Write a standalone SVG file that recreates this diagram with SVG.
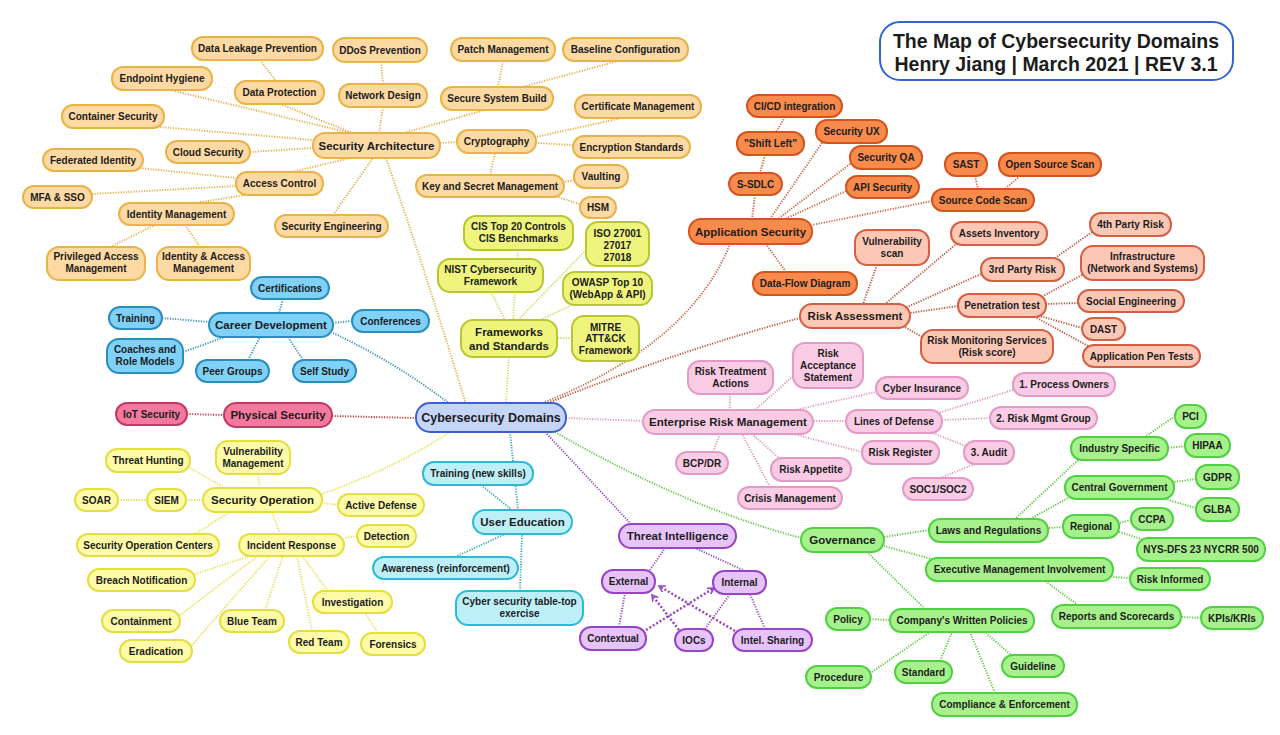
<svg xmlns="http://www.w3.org/2000/svg" width="1280" height="735" viewBox="0 0 1280 735">
<defs>
<style>
text{font-family:"Liberation Sans",Arial,sans-serif;font-weight:bold;font-size:10px;fill:#1c1c1c;text-anchor:middle}
.h text{font-size:11.5px}
rect{stroke-width:2}
.c path{fill:none;stroke-width:1.9;stroke-dasharray:1.2 1.4}
.sa rect{fill:#FDD9A3;stroke:#E9B347}
.fw rect{fill:#EEF47C;stroke:#B9C633}
.cd rect{fill:#7FD1F7;stroke:#2A8EBB}
.ps rect{fill:#F5799E;stroke:#C23A63}
.ct rect{fill:#C5D5F8;stroke:#3C61CF}
.so rect{fill:#FDFBA8;stroke:#E4DE3F}
.ue rect{fill:#BDEFF9;stroke:#2DBAD2}
.ti rect{fill:#E6C3F8;stroke:#9844C6}
.as rect{fill:#F88A4C;stroke:#D3541F}
.ra rect{fill:#FDC7B6;stroke:#D45F43}
.er rect{fill:#F9CBE4;stroke:#E29AC6}
.gv rect{fill:#A7F18C;stroke:#52D043}
.l-sa{stroke:#E3B04B}.l-fw{stroke:#D3D868}.l-cd{stroke:#3A93BE}.l-ps{stroke:#B8403F}
.l-so{stroke:#E6DF55}.l-ue{stroke:#35A9C4}.l-ti{stroke:#9848C0}.l-as{stroke:#C76A40}
.l-ra{stroke:#BE553C}.l-er{stroke:#DC9AC0}.l-gv{stroke:#5CCB40}
.arr{stroke-width:2.5 !important;stroke-dasharray:2 2 !important}
</style>
<marker id="ah" markerWidth="8" markerHeight="8" refX="6" refY="4" orient="auto" markerUnits="userSpaceOnUse">
<path d="M0,0.5 L6,4 L0,7.5" fill="none" stroke="#9848C0" stroke-width="1.6"/>
</marker>
</defs>
<rect width="1280" height="735" fill="#ffffff"/>

<g id="connectors" class="c">
<!-- center -->
<path class="l-sa" d="M466 404 Q425 270 386 158"/>
<path class="l-fw" d="M509 357 L506 403"/>
<path class="l-cd" d="M333 333 Q395 362 450 404"/>
<path class="l-ps" d="M332 416 L416 418"/>
<path class="l-so" d="M322 494 Q395 468 450 432"/>
<path class="l-ue" d="M510 432 Q514 470 518 510"/>
<path class="l-ti" d="M545 432 Q590 480 632 525"/>
<path class="l-gv" d="M555 432 Q685 507 801 538"/>
<path class="l-er" d="M566 418 L643 421"/>
<path class="l-ra" d="M548 403 Q680 350 800 318"/>
<path class="l-as" d="M540 404 Q690 345 730 244"/>
<!-- security architecture -->
<path class="l-sa" d="M280 104 L355 134"/>
<path class="l-sa" d="M260 60 L276 81"/>
<path class="l-sa" d="M170 90 L355 134"/>
<path class="l-sa" d="M383 107 L379 133"/>
<path class="l-sa" d="M381 62 L383 84"/>
<path class="l-sa" d="M485 110 L400 134"/>
<path class="l-sa" d="M503 61 L498 87"/>
<path class="l-sa" d="M618 61 L522 87"/>
<path class="l-sa" d="M160 127 L313 140"/>
<path class="l-sa" d="M250 152 L313 148"/>
<path class="l-sa" d="M457 142 L440 143"/>
<path class="l-sa" d="M622 118 L536 137"/>
<path class="l-sa" d="M573 145 L536 143"/>
<path class="l-sa" d="M490 175 L495 153"/>
<path class="l-sa" d="M574 180 L564 182"/>
<path class="l-sa" d="M582 205 L555 196"/>
<path class="l-sa" d="M292 172 L350 158"/>
<path class="l-sa" d="M140 168 L236 178"/>
<path class="l-sa" d="M92 194 L236 186"/>
<path class="l-sa" d="M195 203 L245 195"/>
<path class="l-sa" d="M333 215 L373 158"/>
<path class="l-sa" d="M110 247 L155 225"/>
<path class="l-sa" d="M200 247 L185 225"/>
<!-- frameworks -->
<path class="l-fw" d="M491 292 L505 320"/>
<path class="l-fw" d="M518 250 L513 320"/>
<path class="l-fw" d="M586 250 L518 320"/>
<path class="l-fw" d="M572 305 L540 320"/>
<path class="l-fw" d="M572 338 L557 338"/>
<!-- career -->
<path class="l-cd" d="M283 299 L279 313"/>
<path class="l-cd" d="M162 318 L209 322"/>
<path class="l-cd" d="M352 321 L333 323"/>
<path class="l-cd" d="M183 352 L225 337"/>
<path class="l-cd" d="M248 360 L260 337"/>
<path class="l-cd" d="M303 360 L288 337"/>
<!-- physical -->
<path class="l-ps" d="M187 414 L224 415"/>
<!-- security operation -->
<path class="l-so" d="M190 468 L225 488"/>
<path class="l-so" d="M258 474 L260 488"/>
<path class="l-so" d="M186 500 L203 500"/>
<path class="l-so" d="M118 500 L147 500"/>
<path class="l-so" d="M338 505 L322 503"/>
<path class="l-so" d="M195 534 L230 512"/>
<path class="l-so" d="M280 534 L272 512"/>
<path class="l-so" d="M357 536 L344 538"/>
<path class="l-so" d="M195 574 L250 556"/>
<path class="l-so" d="M180 615 L258 556"/>
<path class="l-so" d="M192 645 L270 556"/>
<path class="l-so" d="M265 610 L283 556"/>
<path class="l-so" d="M312 631 L297 556"/>
<path class="l-so" d="M328 591 L302 556"/>
<path class="l-so" d="M378 633 L365 613"/>
<!-- user education -->
<path class="l-ue" d="M481 485 L512 510"/>
<path class="l-ue" d="M455 557 L505 534"/>
<path class="l-ue" d="M520 591 L522 534"/>
<!-- threat intelligence -->
<path class="l-ti" d="M650 570 L665 548"/>
<path class="l-ti" d="M745 571 L695 548"/>
<path class="l-ti" d="M619 627 L625 593"/>
<path class="l-ti" d="M705 629 L730 594"/>
<path class="l-ti" d="M765 629 L750 594"/>
<path class="l-ti arr" d="M646 630 L714 588" marker-end="url(#ah)"/>
<path class="l-ti arr" d="M679 630 L652 595" marker-end="url(#ah)"/>
<path class="l-ti arr" d="M735 631 L659 586" marker-end="url(#ah)"/>
<!-- application security -->
<path class="l-as" d="M755 195 L752 219"/>
<path class="l-as" d="M765 155 L760 173"/>
<path class="l-as" d="M785 117 L776 132"/>
<path class="l-as" d="M822 143 L770 219"/>
<path class="l-as" d="M850 164 L778 219"/>
<path class="l-as" d="M846 191 L785 219"/>
<path class="l-as" d="M932 201 L812 225"/>
<path class="l-as" d="M975 176 L978 189"/>
<path class="l-as" d="M1020 176 L1005 189"/>
<path class="l-as" d="M786 272 L766 244"/>
<!-- risk assessment -->
<path class="l-ra" d="M877 265 L863 304"/>
<path class="l-ra" d="M955 245 L885 304"/>
<path class="l-ra" d="M981 274 L905 308"/>
<path class="l-ra" d="M1092 232 L1055 258"/>
<path class="l-ra" d="M958 306 L910 313"/>
<path class="l-ra" d="M1082 275 L1043 296"/>
<path class="l-ra" d="M1078 303 L1046 304"/>
<path class="l-ra" d="M1082 328 L1040 316"/>
<path class="l-ra" d="M1088 346 L1035 317"/>
<path class="l-ra" d="M922 337 L905 327"/>
<!-- erm -->
<path class="l-er" d="M730 394 L730 410"/>
<path class="l-er" d="M793 376 L755 410"/>
<path class="l-er" d="M880 391 L795 410"/>
<path class="l-er" d="M846 421 L813 421"/>
<path class="l-er" d="M1013 390 L938 413"/>
<path class="l-er" d="M990 418 L942 420"/>
<path class="l-er" d="M968 447 L930 432"/>
<path class="l-er" d="M940 478 L975 464"/>
<path class="l-er" d="M862 452 L793 434"/>
<path class="l-er" d="M713 452 L720 434"/>
<path class="l-er" d="M780 459 L752 434"/>
<path class="l-er" d="M770 487 L742 434"/>
<!-- governance -->
<path class="l-gv" d="M929 530 L884 537"/>
<path class="l-gv" d="M935 560 L884 546"/>
<path class="l-gv" d="M925 609 L867 552"/>
<path class="l-gv" d="M1078 460 L1015 519"/>
<path class="l-gv" d="M1070 497 L1030 519"/>
<path class="l-gv" d="M1063 527 L1048 528"/>
<path class="l-gv" d="M1175 416 L1145 437"/>
<path class="l-gv" d="M1185 446 L1168 448"/>
<path class="l-gv" d="M1196 479 L1174 482"/>
<path class="l-gv" d="M1196 508 L1165 499"/>
<path class="l-gv" d="M1131 520 L1119 523"/>
<path class="l-gv" d="M1145 540 L1119 532"/>
<path class="l-gv" d="M1130 578 L1113 577"/>
<path class="l-gv" d="M1078 605 L1045 581"/>
<path class="l-gv" d="M1201 618 L1181 617"/>
<path class="l-gv" d="M870 619 L890 620"/>
<path class="l-gv" d="M872 672 L930 632"/>
<path class="l-gv" d="M940 661 L952 632"/>
<path class="l-gv" d="M995 693 L970 632"/>
<path class="l-gv" d="M1012 656 L985 632"/>
</g>

<g id="title"><rect x="880" y="22" width="353" height="58" rx="20" fill="#ffffff" stroke="#3466D1" stroke-width="2"/>
<text x="1056" y="48" style="font-size:19.5px">The Map of Cybersecurity Domains</text>
<text x="1056" y="71" style="font-size:19.5px">Henry Jiang | March 2021 | REV 3.1</text></g>

<!-- Security Architecture -->
<g class="sa">
<g id="n-dlp"><rect x="192" y="37" width="131" height="23" rx="11"/><text x="257.5" y="52">Data Leakage Prevention</text></g>
<g id="n-ddos"><rect x="333" y="38" width="94" height="24" rx="12"/><text x="380" y="53.5">DDoS Prevention</text></g>
<g id="n-patch"><rect x="451" y="38" width="104" height="23" rx="11"/><text x="503" y="53">Patch Management</text></g>
<g id="n-baseline"><rect x="563" y="38" width="125" height="23" rx="11"/><text x="625.5" y="53">Baseline Configuration</text></g>
<g id="n-endpoint"><rect x="112" y="67" width="100" height="23" rx="11"/><text x="162" y="82">Endpoint Hygiene</text></g>
<g id="n-dataprot"><rect x="235" y="81" width="89" height="23" rx="11"/><text x="279.5" y="96">Data Protection</text></g>
<g id="n-netdesign"><rect x="339" y="84" width="88" height="23" rx="11"/><text x="383" y="99">Network Design</text></g>
<g id="n-ssb"><rect x="441" y="87" width="112" height="23" rx="11"/><text x="497" y="102">Secure System Build</text></g>
<g id="n-certmgmt"><rect x="575" y="95" width="126" height="23" rx="11"/><text x="638" y="110">Certificate Management</text></g>
<g id="n-container"><rect x="62" y="105" width="102" height="23" rx="11"/><text x="113" y="120">Container Security</text></g>
<g id="n-secarch" class="h"><rect x="313" y="133" width="127" height="25" rx="12"/><text x="376.5" y="149.5">Security Architecture</text></g>
<g id="n-crypto"><rect x="457" y="130" width="79" height="23" rx="11"/><text x="496.5" y="145">Cryptography</text></g>
<g id="n-encstd"><rect x="573" y="136" width="117" height="22" rx="11"/><text x="631.5" y="150.5">Encryption Standards</text></g>
<g id="n-cloud"><rect x="166" y="141" width="84" height="22" rx="11"/><text x="208" y="155.5">Cloud Security</text></g>
<g id="n-fedid"><rect x="43" y="149" width="100" height="22" rx="11"/><text x="93" y="163.5">Federated Identity</text></g>
<g id="n-access"><rect x="236" y="172" width="87" height="23" rx="11"/><text x="279.5" y="187">Access Control</text></g>
<g id="n-vaulting"><rect x="574" y="165" width="54" height="23" rx="11"/><text x="601" y="180">Vaulting</text></g>
<g id="n-ksm"><rect x="416" y="175" width="148" height="22" rx="11"/><text x="490" y="189.5">Key and Secret Management</text></g>
<g id="n-mfa"><rect x="23" y="186" width="69" height="22" rx="11"/><text x="57.5" y="200.5">MFA &amp; SSO</text></g>
<g id="n-hsm"><rect x="580" y="197" width="36" height="21" rx="10.5"/><text x="598" y="211">HSM</text></g>
<g id="n-idm"><rect x="119" y="203" width="115" height="22" rx="11"/><text x="176.5" y="217.5">Identity Management</text></g>
<g id="n-seceng"><rect x="275" y="215" width="113" height="22" rx="11"/><text x="331.5" y="229.5">Security Engineering</text></g>
<g id="n-pam"><rect x="47" y="247" width="98" height="33" rx="12"/><text x="96" y="260">Privileged Access</text><text x="96" y="272">Management</text></g>
<g id="n-iam"><rect x="157" y="247" width="93" height="33" rx="12"/><text x="203.5" y="260">Identity &amp; Access</text><text x="203.5" y="272">Management</text></g>
</g>

<!-- Frameworks -->
<g class="fw">
<g id="n-cis"><rect x="464" y="216" width="109" height="34" rx="12"/><text x="518.5" y="230">CIS Top 20 Controls</text><text x="518.5" y="242">CIS Benchmarks</text></g>
<g id="n-iso"><rect x="586" y="222" width="63" height="44" rx="12"/><text x="617.5" y="237">ISO 27001</text><text x="617.5" y="249">27017</text><text x="617.5" y="261">27018</text></g>
<g id="n-nist"><rect x="438" y="259" width="105" height="33" rx="12"/><text x="490.5" y="273">NIST Cybersecurity</text><text x="490.5" y="285">Framework</text></g>
<g id="n-owasp"><rect x="563" y="272" width="89" height="33" rx="12"/><text x="607.5" y="286">OWASP Top 10</text><text x="607.5" y="298">(WebApp &amp; API)</text></g>
<g id="n-fas" class="h"><rect x="461" y="320" width="96" height="37" rx="12"/><text x="509" y="336">Frameworks</text><text x="509" y="350">and Standards</text></g>
<g id="n-mitre"><rect x="572" y="316" width="67" height="45" rx="12"/><text x="605.5" y="331">MITRE</text><text x="605.5" y="342">ATT&amp;CK</text><text x="605.5" y="354">Framework</text></g>
</g>

<!-- Career Development -->
<g class="cd">
<g id="n-certs"><rect x="251" y="277" width="78" height="22" rx="11"/><text x="290" y="291.5">Certifications</text></g>
<g id="n-training"><rect x="109" y="307" width="53" height="22" rx="11"/><text x="135.5" y="321.5">Training</text></g>
<g id="n-career" class="h"><rect x="209" y="313" width="124" height="24" rx="12"/><text x="271" y="329">Career Development</text></g>
<g id="n-conf"><rect x="352" y="310" width="77" height="22" rx="11"/><text x="390.5" y="324.5">Conferences</text></g>
<g id="n-coaches"><rect x="107" y="339" width="76" height="34" rx="12"/><text x="145" y="353">Coaches and</text><text x="145" y="365">Role Models</text></g>
<g id="n-peer"><rect x="196" y="360" width="73" height="22" rx="11"/><text x="232.5" y="374.5">Peer Groups</text></g>
<g id="n-self"><rect x="293" y="360" width="63" height="22" rx="11"/><text x="324.5" y="374.5">Self Study</text></g>
</g>

<!-- Physical Security -->
<g class="ps">
<g id="n-iot"><rect x="116" y="403" width="71" height="22" rx="11"/><text x="151.5" y="417.5">IoT Security</text></g>
<g id="n-physical" class="h"><rect x="224" y="403" width="108" height="24" rx="12"/><text x="278" y="419">Physical Security</text></g>
</g>

<!-- Center -->
<g id="n-center" class="ct"><rect x="416" y="403" width="150" height="29" rx="14"/><text x="491" y="422" style="font-size:12.5px">Cybersecurity Domains</text></g>

<!-- Security Operation -->
<g class="so">
<g id="n-th"><rect x="106" y="449" width="84" height="23" rx="11"/><text x="148" y="464">Threat Hunting</text></g>
<g id="n-vm"><rect x="216" y="441" width="74" height="33" rx="12"/><text x="253" y="455">Vulnerability</text><text x="253" y="467">Management</text></g>
<g id="n-soar"><rect x="75" y="489" width="43" height="22" rx="11"/><text x="96.5" y="503.5">SOAR</text></g>
<g id="n-siem"><rect x="147" y="489" width="39" height="22" rx="11"/><text x="166.5" y="503.5">SIEM</text></g>
<g id="n-secop" class="h"><rect x="203" y="488" width="119" height="24" rx="12"/><text x="262.5" y="504">Security Operation</text></g>
<g id="n-ad"><rect x="338" y="494" width="86" height="22" rx="11"/><text x="381" y="508.5">Active Defense</text></g>
<g id="n-det"><rect x="357" y="525" width="59" height="22" rx="11"/><text x="386.5" y="539.5">Detection</text></g>
<g id="n-soc"><rect x="77" y="534" width="142" height="22" rx="11"/><text x="148" y="548.5">Security Operation Centers</text></g>
<g id="n-ir"><rect x="239" y="534" width="105" height="22" rx="11"/><text x="291.5" y="548.5">Incident Response</text></g>
<g id="n-bn"><rect x="88" y="569" width="107" height="22" rx="11"/><text x="141.5" y="583.5">Breach Notification</text></g>
<g id="n-inv"><rect x="313" y="591" width="79" height="22" rx="11"/><text x="352.5" y="605.5">Investigation</text></g>
<g id="n-cont"><rect x="102" y="610" width="78" height="22" rx="11"/><text x="141" y="624.5">Containment</text></g>
<g id="n-blue"><rect x="220" y="610" width="64" height="22" rx="11"/><text x="252" y="624.5">Blue Team</text></g>
<g id="n-red"><rect x="289" y="631" width="60" height="22" rx="11"/><text x="319" y="645.5">Red Team</text></g>
<g id="n-for"><rect x="361" y="633" width="64" height="22" rx="11"/><text x="393" y="647.5">Forensics</text></g>
<g id="n-erad"><rect x="120" y="640" width="72" height="22" rx="11"/><text x="156" y="654.5">Eradication</text></g>
</g>

<!-- User Education -->
<g class="ue">
<g id="n-tns"><rect x="423" y="462" width="110" height="23" rx="11"/><text x="478" y="477">Training (new skills)</text></g>
<g id="n-ue" class="h"><rect x="473" y="510" width="99" height="24" rx="12"/><text x="522.5" y="526">User Education</text></g>
<g id="n-aw"><rect x="373" y="557" width="145" height="22" rx="11"/><text x="445.5" y="571.5">Awareness (reinforcement)</text></g>
<g id="n-tt"><rect x="456" y="591" width="127" height="34" rx="12"/><text x="519.5" y="605">Cyber security table-top</text><text x="519.5" y="617">exercise</text></g>
</g>

<!-- Threat Intelligence -->
<g class="ti">
<g id="n-ti" class="h"><rect x="619" y="524" width="117" height="24" rx="12"/><text x="677.5" y="540">Threat Intelligence</text></g>
<g id="n-ext"><rect x="602" y="570" width="53" height="23" rx="11"/><text x="628.5" y="585">External</text></g>
<g id="n-int"><rect x="713" y="571" width="53" height="23" rx="11"/><text x="739.5" y="586">Internal</text></g>
<g id="n-ctx"><rect x="580" y="627" width="66" height="23" rx="11"/><text x="613" y="642">Contextual</text></g>
<g id="n-iocs"><rect x="675" y="629" width="38" height="22" rx="11"/><text x="694" y="643.5">IOCs</text></g>
<g id="n-is"><rect x="733" y="629" width="79" height="22" rx="11"/><text x="772.5" y="643.5">Intel. Sharing</text></g>
</g>

<!-- Application Security -->
<g class="as">
<g id="n-cicd"><rect x="747" y="95" width="95" height="22" rx="11"/><text x="794.5" y="109.5">CI/CD integration</text></g>
<g id="n-shift"><rect x="737" y="132" width="67" height="23" rx="11"/><text x="770.5" y="147">"Shift Left"</text></g>
<g id="n-ux"><rect x="816" y="120" width="71" height="23" rx="11"/><text x="851.5" y="135">Security UX</text></g>
<g id="n-qa"><rect x="850" y="146" width="72" height="23" rx="11"/><text x="886" y="161">Security QA</text></g>
<g id="n-sdlc"><rect x="729" y="173" width="53" height="22" rx="11"/><text x="755.5" y="187.5">S-SDLC</text></g>
<g id="n-api"><rect x="846" y="176" width="73" height="22" rx="11"/><text x="882.5" y="190.5">API Security</text></g>
<g id="n-sast"><rect x="945" y="153" width="42" height="23" rx="11"/><text x="966" y="168">SAST</text></g>
<g id="n-oss"><rect x="999" y="153" width="102" height="23" rx="11"/><text x="1050" y="168">Open Source Scan</text></g>
<g id="n-scs"><rect x="932" y="189" width="102" height="22" rx="11"/><text x="983" y="203.5">Source Code Scan</text></g>
<g id="n-appsec" class="h"><rect x="689" y="219" width="123" height="25" rx="12"/><text x="750.5" y="235.5">Application Security</text></g>
<g id="n-dfd"><rect x="753" y="272" width="104" height="23" rx="11"/><text x="805" y="287">Data-Flow Diagram</text></g>
</g>

<!-- Risk Assessment -->
<g class="ra">
<g id="n-vs"><rect x="855" y="230" width="74" height="35" rx="12"/><text x="892" y="245">Vulnerability</text><text x="892" y="257">scan</text></g>
<g id="n-ai"><rect x="951" y="222" width="96" height="23" rx="11"/><text x="999" y="237">Assets Inventory</text></g>
<g id="n-4th"><rect x="1090" y="213" width="81" height="23" rx="11"/><text x="1130.5" y="228">4th Party Risk</text></g>
<g id="n-3rd"><rect x="981" y="258" width="83" height="23" rx="11"/><text x="1022.5" y="273">3rd Party Risk</text></g>
<g id="n-infra"><rect x="1081" y="246" width="123" height="34" rx="12"/><text x="1142.5" y="260">Infrastructure</text><text x="1142.5" y="272">(Network and Systems)</text></g>
<g id="n-pen"><rect x="958" y="294" width="88" height="23" rx="11"/><text x="1002" y="309">Penetration test</text></g>
<g id="n-soceng"><rect x="1078" y="290" width="106" height="22" rx="11"/><text x="1131" y="304.5">Social Engineering</text></g>
<g id="n-ra" class="h"><rect x="800" y="304" width="110" height="24" rx="12"/><text x="855" y="320">Risk Assessment</text></g>
<g id="n-dast"><rect x="1082" y="318" width="43" height="22" rx="11"/><text x="1103.5" y="332.5">DAST</text></g>
<g id="n-rms"><rect x="921" y="330" width="132" height="33" rx="12"/><text x="987" y="344">Risk Monitoring Services</text><text x="987" y="356">(Risk score)</text></g>
<g id="n-apt"><rect x="1083" y="345" width="117" height="22" rx="11"/><text x="1141.5" y="359.5">Application Pen Tests</text></g>
</g>

<!-- Enterprise Risk Management -->
<g class="er">
<g id="n-ras"><rect x="793" y="343" width="70" height="45" rx="12"/><text x="828" y="357">Risk</text><text x="828" y="369">Acceptance</text><text x="828" y="381">Statement</text></g>
<g id="n-rta"><rect x="688" y="361" width="85" height="33" rx="12"/><text x="730.5" y="375">Risk Treatment</text><text x="730.5" y="387">Actions</text></g>
<g id="n-ci"><rect x="876" y="377" width="92" height="22" rx="11"/><text x="922" y="391.5">Cyber Insurance</text></g>
<g id="n-po"><rect x="1013" y="373" width="102" height="23" rx="11"/><text x="1064" y="388">1. Process Owners</text></g>
<g id="n-erm" class="h"><rect x="643" y="410" width="170" height="24" rx="12"/><text x="728" y="426">Enterprise Risk Management</text></g>
<g id="n-lod"><rect x="846" y="410" width="96" height="23" rx="11"/><text x="894" y="425">Lines of Defense</text></g>
<g id="n-rmg"><rect x="990" y="407" width="107" height="22" rx="11"/><text x="1043.5" y="421.5">2. Risk Mgmt Group</text></g>
<g id="n-bcp"><rect x="676" y="452" width="52" height="22" rx="11"/><text x="702" y="466.5">BCP/DR</text></g>
<g id="n-rap"><rect x="771" y="458" width="80" height="23" rx="11"/><text x="811" y="473">Risk Appetite</text></g>
<g id="n-rr"><rect x="862" y="441" width="77" height="23" rx="11"/><text x="900.5" y="456">Risk Register</text></g>
<g id="n-audit"><rect x="964" y="441" width="50" height="23" rx="11"/><text x="989" y="456">3. Audit</text></g>
<g id="n-soc12"><rect x="903" y="478" width="70" height="22" rx="11"/><text x="938" y="492.5">SOC1/SOC2</text></g>
<g id="n-crisis"><rect x="738" y="487" width="104" height="22" rx="11"/><text x="790" y="501.5">Crisis Management</text></g>
</g>

<!-- Governance -->
<g class="gv">
<g id="n-pci"><rect x="1175" y="405" width="31" height="23" rx="11"/><text x="1190.5" y="420">PCI</text></g>
<g id="n-ind"><rect x="1071" y="437" width="97" height="23" rx="11"/><text x="1119.5" y="452">Industry Specific</text></g>
<g id="n-hipaa"><rect x="1185" y="434" width="45" height="23" rx="11"/><text x="1207.5" y="449">HIPAA</text></g>
<g id="n-gdpr"><rect x="1196" y="465" width="43" height="24" rx="11"/><text x="1217.5" y="480.5">GDPR</text></g>
<g id="n-cg"><rect x="1065" y="476" width="109" height="23" rx="11"/><text x="1119.5" y="491">Central Government</text></g>
<g id="n-glba"><rect x="1196" y="498" width="43" height="23" rx="11"/><text x="1217.5" y="513">GLBA</text></g>
<g id="n-ccpa"><rect x="1131" y="508" width="42" height="22" rx="11"/><text x="1152" y="522.5">CCPA</text></g>
<g id="n-lar"><rect x="929" y="519" width="119" height="23" rx="11"/><text x="988.5" y="534">Laws and Regulations</text></g>
<g id="n-reg"><rect x="1063" y="515" width="56" height="23" rx="11"/><text x="1091" y="530">Regional</text></g>
<g id="n-nys"><rect x="1137" y="538" width="128" height="23" rx="11"/><text x="1201" y="553">NYS-DFS 23 NYCRR 500</text></g>
<g id="n-gov" class="h"><rect x="801" y="528" width="83" height="24" rx="12"/><text x="842.5" y="544">Governance</text></g>
<g id="n-emi"><rect x="926" y="558" width="187" height="23" rx="11"/><text x="1019.5" y="573">Executive Management Involvement</text></g>
<g id="n-ri"><rect x="1130" y="568" width="80" height="22" rx="11"/><text x="1170" y="582.5">Risk Informed</text></g>
<g id="n-rs"><rect x="1052" y="605" width="129" height="23" rx="11"/><text x="1116.5" y="620">Reports and Scorecards</text></g>
<g id="n-kpi"><rect x="1201" y="607" width="62" height="22" rx="11"/><text x="1232" y="621.5">KPIs/KRIs</text></g>
<g id="n-policy"><rect x="826" y="608" width="44" height="22" rx="11"/><text x="848" y="622.5">Policy</text></g>
<g id="n-cwp"><rect x="890" y="609" width="144" height="23" rx="11"/><text x="962" y="624">Company's Written Policies</text></g>
<g id="n-guide"><rect x="1002" y="655" width="62" height="22" rx="11"/><text x="1033" y="669.5">Guideline</text></g>
<g id="n-std"><rect x="895" y="661" width="57" height="22" rx="11"/><text x="923.5" y="675.5">Standard</text></g>
<g id="n-proc"><rect x="806" y="666" width="65" height="22" rx="11"/><text x="838.5" y="680.5">Procedure</text></g>
<g id="n-ce"><rect x="932" y="693" width="145" height="23" rx="11"/><text x="1004.5" y="708">Compliance &amp; Enforcement</text></g>
</g>
</svg>
